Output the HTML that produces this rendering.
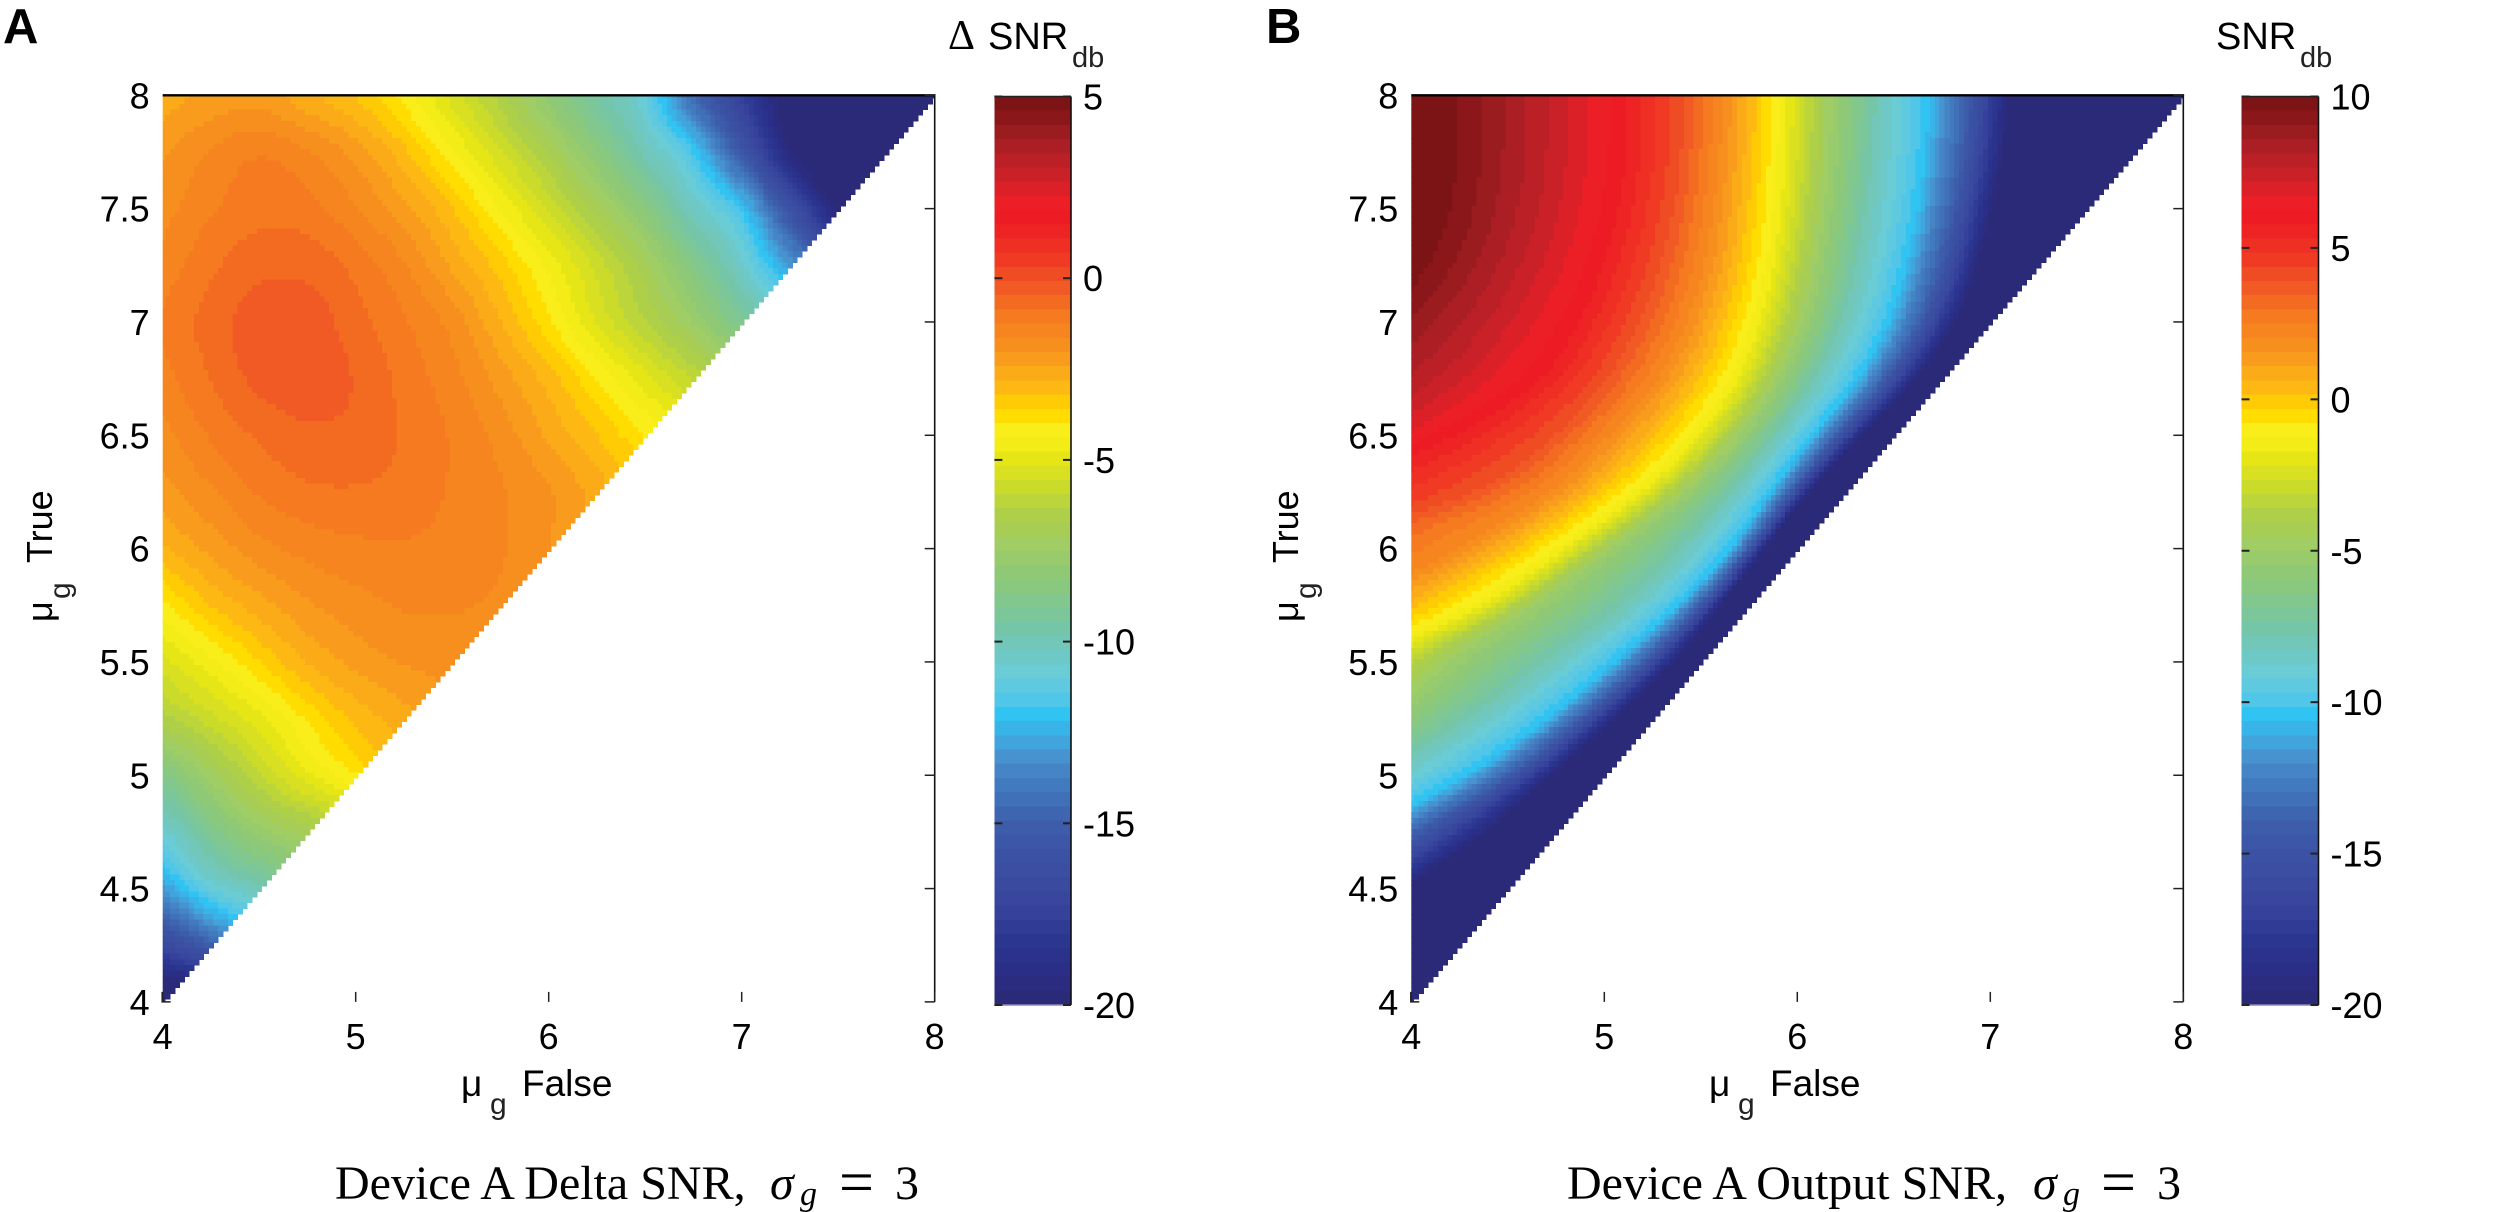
<!DOCTYPE html>
<html lang="en">
<head>
<meta charset="utf-8">
<title>Device A SNR heatmaps</title>
<style>
html,body{margin:0;padding:0;background:#fff;width:2500px;height:1212px;overflow:hidden}
svg{display:block}
text{font-family:"Liberation Sans",sans-serif;fill:#000}
.serif{font-family:"Liberation Serif",serif}
</style>
</head>
<body>
<svg id="figure" xmlns="http://www.w3.org/2000/svg" width="2500" height="1212" viewBox="0 0 2500 1212">
  <defs>
    <clipPath id="clip-a"><rect x="162.7" y="95.3" width="772" height="907"/></clipPath>
    <clipPath id="clip-b"><rect x="1411.3" y="95.3" width="772" height="907"/></clipPath>
  </defs>
  <g id="panel-a"></g>
  <g id="panel-b"></g>

  <text x="3" y="43" font-size="49" font-weight="bold">A</text>
  <text x="1266" y="43" font-size="49" font-weight="bold">B</text>

  <text font-size="38" y="49"><tspan x="948" font-family="Liberation Serif" font-size="42">Δ</tspan><tspan x="988" font-size="38">SNR</tspan><tspan x="1072" y="67" font-size="29" fill="#222">db</tspan></text>
  <text font-size="38" y="49"><tspan x="2216">SNR</tspan><tspan x="2300" y="67" font-size="29" fill="#222">db</tspan></text>

  <text font-size="37" y="1096"><tspan x="461">μ</tspan><tspan x="490" y="1114" font-size="30" fill="#222">g</tspan><tspan x="522" y="1096">False</tspan></text>
  <text font-size="37" y="1096"><tspan x="1709">μ</tspan><tspan x="1738" y="1114" font-size="30" fill="#222">g</tspan><tspan x="1770" y="1096">False</tspan></text>

  <text font-size="36" transform="translate(52,622) rotate(-90)"><tspan x="0" y="0">μ</tspan><tspan x="23" y="18" font-size="30" fill="#222">g</tspan><tspan x="59" y="0">True</tspan></text>
  <text font-size="36" transform="translate(1298,622) rotate(-90)"><tspan x="0" y="0">μ</tspan><tspan x="23" y="18" font-size="30" fill="#222">g</tspan><tspan x="59" y="0">True</tspan></text>

  <text class="serif" font-size="48" y="1199" style="font-family:'Liberation Serif',serif"><tspan x="335">Device A Delta SNR,</tspan><tspan x="770" font-style="italic">σ</tspan><tspan x="800" y="1205" font-size="34" font-style="italic">g</tspan><tspan x="839" y="1203" font-size="62">=</tspan><tspan x="895" y="1199">3</tspan></text>
  <text class="serif" font-size="48" y="1199" style="font-family:'Liberation Serif',serif"><tspan x="1567">Device A Output SNR,</tspan><tspan x="2033" font-style="italic">σ</tspan><tspan x="2063" y="1205" font-size="34" font-style="italic">g</tspan><tspan x="2101" y="1203" font-size="62">=</tspan><tspan x="2157" y="1199">3</tspan></text>
</svg>
<script>
// Axis values
const muFalseCols = [4,4.25,4.5,4.75,5,5.25,5.5,5.75,6,6.25,6.5,6.75,7,7.25,7.5,7.75,8];
const muTrueRows = [8,7.75,7.5,7.25,7,6.75,6.5,6.25,6,5.75,5.5,5.25,5,4.75,4.5,4.25,4];
const xTickValues = [4,5,6,7,8];
const yTickValues = [4,4.5,5,5.5,6,6.5,7,7.5,8];
const xTickLabels = ["4","5","6","7","8"];
const yTickLabels = ["4","4.5","5","5.5","6","6.5","7","7.5","8"];

// Panel A: Delta SNR (dB), one row per muTrueRows entry
const deltaSnrRows = [
  [-2.6,-2.3,-2.2,-2.7,-3.2,-4.1,-5.3,-6.5,-8,-9.5,-11,-14.5,-17.5,-20.5,-23,-25,-27],
  [-2.1,-1.6,-1.3,-1.6,-2.2,-3.1,-4.3,-5.5,-6.8,-8.3,-10,-11.8,-15.5,-19.5,-22,-24],
  [-1.8,-1.3,-1,-1.1,-1.6,-2.3,-3.2,-4.4,-5.6,-6.9,-8.4,-10.3,-12,-16,-20],
  [-1.5,-0.95,-0.6,-0.6,-1,-1.6,-2.5,-3.4,-4.5,-5.7,-7,-8.7,-10.5,-13],
  [-1.2,-0.7,-0.25,-0.25,-0.7,-1.2,-1.8,-2.8,-3.9,-5.2,-6.3,-7.5,-9],
  [-1.4,-0.85,-0.35,-0.25,-0.5,-1,-1.5,-2.2,-3,-4,-5,-6],
  [-1.8,-1.2,-0.8,-0.55,-0.6,-0.9,-1.3,-1.8,-2.5,-3.2,-4],
  [-2.2,-1.7,-1.2,-0.95,-0.9,-1,-1.3,-1.6,-2,-2.6],
  [-2.9,-2.3,-1.8,-1.5,-1.35,-1.3,-1.4,-1.6,-2],
  [-4.1,-3.2,-2.6,-2.1,-1.8,-1.6,-1.6,-1.7],
  [-5.3,-4.5,-3.6,-2.8,-2.3,-2,-1.9],
  [-6.5,-5.7,-4.9,-3.9,-3.1,-2.6],
  [-8.8,-7.3,-6,-4.9,-4],
  [-10.8,-9,-7.7,-7],
  [-13,-11,-10],
  [-17,-15],
  [-21]
];

// Panel B: Output SNR contour levels (dB) and, for each, the muFalse value where
// that level is crossed on every muTrueRows row.
const outputSnrLevels = [9.5,8,6,4,2,-1.5,-5,-8,-10.5,-14,-19.5];
const crossAt9p5 = [4.25,4.25,4.22,4.1,3.85,3.4,2.9,2.5,2.2,1.9,1.6,1.3,1,0.7,0.4,0.1,-0.2];
const crossAt8 = [4.63,4.62,4.58,4.48,4.3,4.02,3.55,3,2.6,2.3,2,1.7,1.4,1.1,0.8,0.5,0.2];
const crossAt6 = [5.09,5.08,5.04,4.96,4.83,4.63,4.17,3.5,3,2.7,2.4,2.1,1.8,1.5,1.2,0.9,0.6];
const crossAt4 = [5.4,5.39,5.35,5.28,5.17,5,4.73,4.3,3.45,3.1,2.8,2.5,2.2,1.9,1.6,1.3,1];
const crossAt2 = [5.62,5.6,5.57,5.52,5.43,5.28,5.03,4.72,4.25,3.7,3.25,2.9,2.6,2.3,2,1.7,1.4];
const crossAtM1p5 = [5.93,5.92,5.9,5.86,5.79,5.68,5.48,5.18,4.78,4.35,3.75,3.35,3,2.7,2.4,2.1,1.8];
const crossAtM5 = [6.18,6.17,6.14,6.1,6.03,5.9,5.7,5.42,5.04,4.64,4.2,3.85,3.4,3,2.6,2.3,2];
const crossAtM8 = [6.42,6.4,6.37,6.32,6.24,6.1,5.9,5.67,5.42,5.12,4.72,4.32,3.85,3.35,2.9,2.5,2.1];
const crossAtM10p5 = [6.68,6.66,6.62,6.56,6.47,6.31,6.08,5.86,5.65,5.38,5.05,4.7,4.28,3.75,3.2,2.7,2.2];
const crossAtM14 = [6.87,6.85,6.8,6.73,6.63,6.45,6.2,5.96,5.74,5.49,5.2,4.87,4.5,4.03,3.6,3.1,2.6];
const crossAtM19p5 = [7.09,7.06,7,6.93,6.81,6.61,6.33,6.06,5.83,5.6,5.35,5.05,4.72,4.38,3.95,3.5,3];
const outputSnrCrossings = [crossAt9p5,crossAt8,crossAt6,crossAt4,crossAt2,crossAtM1p5,crossAtM5,crossAtM8,crossAtM10p5,crossAtM14,crossAtM19p5];

// Colour bar ticks
const deltaBarTicks = [5,0,-5,-10,-15,-20];
const deltaBarLabels = ["5","0","-5","-10","-15","-20"];
const outputBarTicks = [10,5,0,-5,-10,-15,-20];
const outputBarLabels = ["10","5","0","-5","-10","-15","-20"];

// 64-level colormap, top (high) to bottom (low)
const colormapLevels = [
  "#7c1416","#8b171a","#9a1c1f","#ab1e23","#ba2025","#c92127","#dc2028","#ed1f26",
  "#ed1c24","#ee2324","#ef2e24","#f03a24","#f04c23","#f15a24","#f36b21","#f57a20",
  "#f6841f","#f78f1e","#f99b1c","#fbaa18","#fdb813","#ffcb05","#ffdd00","#f9ee19",
  "#f3ec17","#e6e616","#d8e021","#cadb2a","#bcd53a","#aed049","#a8cd55","#a0cd64",
  "#98cb6c","#90c976","#88c87f","#82c78d","#7cc79a","#75c6a8","#72c7b8","#6ec8c6",
  "#6accd5","#5fc9e0","#50c6e8","#31c3f2","#38b4e8","#3fa5dc","#4693cf","#4585c5",
  "#427abf","#4070b8","#3e65b0","#3d5dab","#3c57a7","#3b52a4","#3a4ea2","#394a9f",
  "#38469d","#35419b","#2f3b95","#2b3691","#2a328c","#2b2e86","#2b2c80","#2b2a78"
];

const SVG_NS = "http://www.w3.org/2000/svg";
const CELLS_PER_UNIT = 40;

function svgEl(tag, parent) {
  const el = document.createElementNS(SVG_NS, tag);
  parent.appendChild(el);
  return el;
}

function gridValue(rows, r, c) {
  const rr = Math.max(0, Math.min(rows.length - 1, r));
  const row = rows[rr];
  const n = row.length;
  if (c < 0) {
    return n > 1 ? row[0] + c * (row[1] - row[0]) : row[0];
  }
  if (c < n) return row[c];
  return n > 1 ? row[n - 1] + (c - n + 1) * (row[n - 1] - row[n - 2]) : row[0];
}

function catmull(a, b, c, d, t) {
  return 0.5 * (2 * b + (c - a) * t + (2 * a - 5 * b + 4 * c - d) * t * t + (3 * b - a - 3 * c + d) * t * t * t);
}

function sampleDelta(muF, muT) {
  const rows = deltaSnrRows;
  const step = muFalseCols[1] - muFalseCols[0];
  const fc = (muF - muFalseCols[0]) / step;
  const fr = (muTrueRows[0] - muT) / step;
  const c0 = Math.min(Math.floor(fc), muFalseCols.length - 2);
  const r0 = Math.min(Math.floor(fr), muTrueRows.length - 2);
  const tc = fc - c0;
  const tr = fr - r0;
  const across = [];
  for (let r = -1; r <= 2; r++) {
    across.push(catmull(
      gridValue(rows, r0 + r, c0 - 1),
      gridValue(rows, r0 + r, c0),
      gridValue(rows, r0 + r, c0 + 1),
      gridValue(rows, r0 + r, c0 + 2),
      tc));
  }
  return catmull(across[0], across[1], across[2], across[3], tr);
}

function crossingOnRow(series, muT) {
  const step = muTrueRows[0] - muTrueRows[1];
  const fr = (muTrueRows[0] - muT) / step;
  const r0 = Math.min(Math.floor(fr), muTrueRows.length - 2);
  const at = i => series[Math.max(0, Math.min(series.length - 1, i))];
  return catmull(at(r0 - 1), at(r0), at(r0 + 1), at(r0 + 2), fr - r0);
}

function sampleOutput(muF, muT) {
  const xs = outputSnrCrossings.map(s => crossingOnRow(s, muT));
  const lv = outputSnrLevels;
  if (muF <= xs[0]) return lv[0] + (xs[0] - muF) * 2;
  for (let i = 0; i < xs.length - 1; i++) {
    if (muF <= xs[i + 1]) {
      const span = xs[i + 1] - xs[i];
      const t = span > 1e-6 ? (muF - xs[i]) / span : 1;
      return lv[i] + (lv[i + 1] - lv[i]) * t;
    }
  }
  return lv[lv.length - 1] - (muF - xs[xs.length - 1]) * 40;
}

function colorFor(value, vMin, vMax) {
  const n = colormapLevels.length;
  let k = Math.floor((vMax - value) / (vMax - vMin) * n);
  if (k < 0) k = 0;
  if (k > n - 1) k = n - 1;
  return colormapLevels[k];
}

function drawPanel(root, field, clipId, left, cbLeft, cbWidth, vMin, vMax, barTicks, barLabels) {
  const plotW = 772, plotH = 906.6, plotTop = 95.3, plotBottom = plotTop + plotH;
  const xScale = v => left + (v - 4) / 4 * plotW;
  const yScale = v => plotBottom - (v - 4) / 4 * plotH;

  // Heatmap cells
  const cells = svgEl("g", root);
  
  
  cells.setAttribute("clip-path", "url(#" + clipId + ")");
  cells.setAttribute("shape-rendering", "crispEdges");
  const cw = plotW / (4 * CELLS_PER_UNIT), ch = plotH / (4 * CELLS_PER_UNIT);
  const total = 4 * CELLS_PER_UNIT;
  for (let j = 0; j <= total; j++) {
    const muT = 8 - j / CELLS_PER_UNIT;
    for (let i = 0; i <= total - j; i++) {
      const muF = 4 + i / CELLS_PER_UNIT;
      const cell = svgEl("rect", cells);
      
      
      cell.setAttribute("x", (xScale(muF) - cw / 2).toFixed(2));
      cell.setAttribute("y", (yScale(muT) - ch / 2).toFixed(2));
      cell.setAttribute("width", (cw + 0.5).toFixed(2));
      cell.setAttribute("height", (ch + 0.5).toFixed(2));
      cell.setAttribute("fill", colorFor(field(muF, muT), vMin, vMax));
    }
  }

  // Axes lines
  const top = svgEl("line", root);
  
  
  top.setAttribute("x1", left); top.setAttribute("x2", left + plotW + 0.8);
  top.setAttribute("y1", plotTop); top.setAttribute("y2", plotTop);
  top.setAttribute("stroke", "#000"); top.setAttribute("stroke-width", "2.4");

  const right = svgEl("line", root);
  
  
  right.setAttribute("x1", left + plotW); right.setAttribute("x2", left + plotW);
  right.setAttribute("y1", plotTop); right.setAttribute("y2", plotBottom);
  right.setAttribute("stroke", "#111"); right.setAttribute("stroke-width", "1.6");

  // X ticks and labels
  xTickValues.forEach((v, idx) => {
    const t = svgEl("line", root);
    
    
    t.setAttribute("x1", xScale(v)); t.setAttribute("x2", xScale(v));
    t.setAttribute("y1", plotBottom - 10); t.setAttribute("y2", plotBottom);
    t.setAttribute("stroke", "#222"); t.setAttribute("stroke-width", "1.5");
    const lab = svgEl("text", root);
    
    
    lab.setAttribute("x", xScale(v));
    lab.setAttribute("y", 1049);
    lab.setAttribute("font-size", "36");
    lab.setAttribute("text-anchor", "middle");
    lab.textContent = xTickLabels[idx];
  });

  // Y ticks (right side) and labels (left side)
  yTickValues.forEach((v, idx) => {
    const t = svgEl("line", root);
    
    
    t.setAttribute("x1", left + plotW - 10); t.setAttribute("x2", left + plotW);
    t.setAttribute("y1", yScale(v)); t.setAttribute("y2", yScale(v));
    t.setAttribute("stroke", "#222"); t.setAttribute("stroke-width", "1.5");
    const lab = svgEl("text", root);
    
    
    lab.setAttribute("x", left - 13);
    lab.setAttribute("y", yScale(v) + 13);
    lab.setAttribute("font-size", "36");
    lab.setAttribute("text-anchor", "end");
    lab.textContent = yTickLabels[idx];
  });

  // Bottom-left corner mark
  const corner = svgEl("path", root);
  
  
  corner.setAttribute("d", "M" + (left - 0.5) + " " + (plotBottom - 10) + "V" + plotBottom + "H" + (left + 8));
  corner.setAttribute("fill", "none");
  corner.setAttribute("stroke", "#222");
  corner.setAttribute("stroke-width", "1.5");

  // Colour bar
  const cbTop = 96.5, cbBottom = 1005, cbH = cbBottom - cbTop;
  const barScale = v => cbBottom - (v - vMin) / (vMax - vMin) * cbH;
  const bar = svgEl("g", root);
  
  
  bar.setAttribute("shape-rendering", "crispEdges");
  colormapLevels.forEach((c, k) => {
    const band = svgEl("rect", bar);
    
    
    band.setAttribute("x", cbLeft);
    band.setAttribute("y", (cbTop + k * cbH / colormapLevels.length).toFixed(2));
    band.setAttribute("width", cbWidth);
    band.setAttribute("height", (cbH / colormapLevels.length + 0.6).toFixed(2));
    band.setAttribute("fill", c);
  });

  const frameTop = svgEl("line", root);
  
  
  frameTop.setAttribute("x1", cbLeft); frameTop.setAttribute("x2", cbLeft + cbWidth);
  frameTop.setAttribute("y1", cbTop); frameTop.setAttribute("y2", cbTop);
  frameTop.setAttribute("stroke", "#222"); frameTop.setAttribute("stroke-width", "1.5");

  const frameRight = svgEl("line", root);
  
  
  frameRight.setAttribute("x1", cbLeft + cbWidth); frameRight.setAttribute("x2", cbLeft + cbWidth);
  frameRight.setAttribute("y1", cbTop); frameRight.setAttribute("y2", cbBottom);
  frameRight.setAttribute("stroke", "#111"); frameRight.setAttribute("stroke-width", "1.6");

  const frameBottom = svgEl("line", root);
  
  
  frameBottom.setAttribute("x1", cbLeft); frameBottom.setAttribute("x2", cbLeft + cbWidth);
  frameBottom.setAttribute("y1", cbBottom); frameBottom.setAttribute("y2", cbBottom);
  frameBottom.setAttribute("stroke", "#8a86c0"); frameBottom.setAttribute("stroke-width", "1.5");

  barTicks.forEach((v, idx) => {
    const yy = barScale(v);
    const tl = svgEl("line", root);
    
    
    tl.setAttribute("x1", cbLeft); tl.setAttribute("x2", cbLeft + 8);
    tl.setAttribute("y1", yy); tl.setAttribute("y2", yy);
    tl.setAttribute("stroke", "#222"); tl.setAttribute("stroke-width", "2");
    const tr = svgEl("line", root);
    
    
    tr.setAttribute("x1", cbLeft + cbWidth - 8); tr.setAttribute("x2", cbLeft + cbWidth);
    tr.setAttribute("y1", yy); tr.setAttribute("y2", yy);
    tr.setAttribute("stroke", "#222"); tr.setAttribute("stroke-width", "2");
    const lab = svgEl("text", root);
    
    
    lab.setAttribute("x", cbLeft + cbWidth + 12);
    lab.setAttribute("y", yy + 13);
    lab.setAttribute("font-size", "36");
    lab.textContent = barLabels[idx];
  });
}

drawPanel(document.getElementById("panel-a"), sampleDelta, "clip-a", 162.7, 994.4, 76.6, -20, 5, deltaBarTicks, deltaBarLabels);
drawPanel(document.getElementById("panel-b"), sampleOutput, "clip-b", 1411.3, 2241.5, 77, -20, 10, outputBarTicks, outputBarLabels);
</script>
</body>
</html>
